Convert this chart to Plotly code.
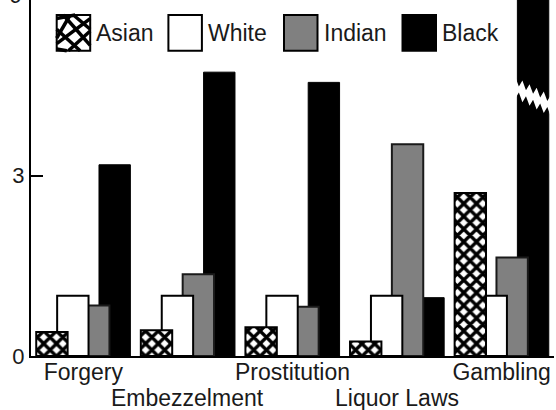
import plotly.graph_objects as go

# ---------------- data ----------------
categories = ["Forgery", "Embezzelment", "Prostitution", "Liquor Laws", "Gambling"]
label_row = [0, 1, 0, 1, 0]          # 0 = first line under axis, 1 = second line
asian  = [0.40, 0.43, 0.48, 0.24, 2.71]
white  = [1.00, 1.00, 1.00, 1.00, 1.00]
indian = [0.84, 1.36, 0.82, 3.52, 1.64]
black  = [3.18, 4.72, 4.55, 0.97, 8.50]   # Gambling bar is broken (off the scale)
series_names = ["Asian", "White", "Indian", "Black"]
y_ticks = [0, 3, 6]

# ---------------- layout geometry ----------------
W, H = 556, 410
ML, MR, MT, MB = 31, 2, 0, 54
Y_TOP = 5.92
BAR_W = 0.30
OFFSETS = {"Asian": -0.45, "White": -0.25, "Indian": -0.05, "Black": 0.15}
FONT = "Liberation Sans, Arial, Helvetica, sans-serif"
FS = 22
TXT = "#1a1a1a"

pw, ph = W - ML - MR, H - MT - MB
def px_x(px):
    return (px - ML) / pw
def px_y(py):
    return (H - MB - py) / ph

fig = go.Figure()

styles = {
    "Black":  dict(marker=dict(color="black", line=dict(color="black", width=1))),
    "Indian": dict(marker=dict(color="#808080", line=dict(color="#1a1a1a", width=2))),
    "White":  dict(marker=dict(color="white", line=dict(color="black", width=2))),
    "Asian":  dict(marker=dict(color="white", line=dict(color="black", width=2),
                               pattern=dict(shape="x", fgcolor="black", bgcolor="white",
                                            fgopacity=1, size=9, solidity=0.6))),
}
values = {"Asian": asian, "White": white, "Indian": indian, "Black": black}

# draw back-to-front so that Asian sits on top of White, White on Indian, Indian on Black
for name in ["Black", "Indian", "White", "Asian"]:
    fig.add_trace(go.Bar(
        x=categories, y=values[name], name=name,
        offset=OFFSETS[name], width=BAR_W,
        showlegend=False, **styles[name]))

shapes = []
annotations = []

# ---- break marker on the off-scale Gambling bar ----
gi = categories.index("Gambling")
bx0 = gi + OFFSETS["Black"] - 0.02
bx1 = gi + OFFSETS["Black"] + BAR_W + 0.02
yc_left, yc_right = 4.46, 4.16
half, amp = 0.05, 0.13
n_teeth = 5
n_pts = 2 * n_teeth
up, lo = [], []
for i in range(n_pts + 1):
    t = i / n_pts
    x = bx0 + (bx1 - bx0) * t
    yc = yc_left + (yc_right - yc_left) * t
    a = amp if i % 2 == 0 else 0
    up.append((x, yc + half + a))
    lo.append((x, yc - half - a))
pts = up + lo[::-1]
path = "M " + " L ".join(f"{x:.4f},{y:.4f}" for x, y in pts) + " Z"
shapes.append(dict(type="path", path=path, xref="x", yref="y",
                   fillcolor="white", line=dict(color="white", width=0), layer="above"))

# ---- custom legend (large swatches) ----
sw_left_px = [56.7, 168.4, 284.0, 402.5]
sw_w_px = 33.5
sw_top_px, sw_bot_px = 15.0, 50.7
sw_fill = {"Asian": "white", "White": "white", "Indian": "#808080", "Black": "black"}
for name, lx in zip(series_names, sw_left_px):
    x0, x1 = px_x(lx), px_x(lx + sw_w_px)
    y0, y1 = px_y(sw_bot_px), px_y(sw_top_px)
    shapes.append(dict(type="rect", xref="paper", yref="paper", x0=x0, x1=x1, y0=y0, y1=y1,
                       fillcolor=sw_fill[name], line=dict(color="black", width=2), layer="above"))
    if name == "Asian":
        # scribbled hatching inside the swatch
        segs = [(0.0, 0.2, 1.0, 0.9), (0.0, 0.6, 0.7, 0.0), (0.2, 1.0, 1.0, 0.15),
                (0.0, 0.9, 0.55, 1.0), (0.35, 0.0, 1.0, 0.55), (0.0, 0.35, 0.4, 1.0),
                (0.5, 1.0, 1.0, 0.6), (0.0, 0.05, 0.3, 0.0)]
        for (a0, b0, a1, b1) in segs:
            shapes.append(dict(type="line", xref="paper", yref="paper",
                               x0=x0 + (x1 - x0) * a0, y0=y0 + (y1 - y0) * b0,
                               x1=x0 + (x1 - x0) * a1, y1=y0 + (y1 - y0) * b1,
                               line=dict(color="black", width=3.5), layer="above"))
    annotations.append(dict(text=name, xref="paper", yref="paper",
                            x=px_x(lx + sw_w_px + 4), y=px_y((sw_top_px + sw_bot_px) / 2),
                            xanchor="left", yanchor="middle", showarrow=False,
                            font=dict(family=FONT, size=FS + 1, color=TXT)))

# ---- second row of category labels ----
for cat, row in zip(categories, label_row):
    if row == 1:
        annotations.append(dict(text=cat, xref="x", yref="paper", x=cat, y=0,
                                xanchor="center", yanchor="top", yshift=-27, showarrow=False,
                                font=dict(family=FONT, size=FS + 1, color=TXT)))

# ---- top tick label that falls just outside the plotted range (paper-referenced) ----
annotations.append(dict(text=str(y_ticks[-1]), xref="paper", yref="paper",
                        x=0, y=y_ticks[-1] / Y_TOP,
                        xanchor="right", yanchor="middle", xshift=-8, showarrow=False,
                        font=dict(family=FONT, size=FS, color=TXT)))

fig.update_layout(
    width=W, height=H,
    margin=dict(l=ML, r=MR, t=MT, b=MB, pad=0),
    paper_bgcolor="white", plot_bgcolor="white",
    barmode="overlay",
    font=dict(family=FONT, size=FS, color=TXT),
    shapes=shapes, annotations=annotations,
    xaxis=dict(type="category", categoryorder="array", categoryarray=categories,
               range=[-0.5, len(categories) - 0.5],
               tickvals=categories,
               ticktext=[c if r == 0 else "" for c, r in zip(categories, label_row)],
               tickfont=dict(size=FS + 1),
               ticks="", ticklabelstandoff=-6,
               showline=True, linecolor="black", linewidth=2,
               showgrid=False, zeroline=False, fixedrange=True),
    yaxis=dict(range=[0, Y_TOP], tickvals=y_ticks, ticktext=[str(v) for v in y_ticks],
               ticks="inside", ticklen=12, tickwidth=2, tickcolor="black",
               showline=True, linecolor="black", linewidth=2,
               showgrid=False, zeroline=False, fixedrange=True),
)

fig.write_html("out.html", config={"displayModeBar": False},
               post_script="document.body.style.margin='0';document.body.style.overflow='hidden';")
